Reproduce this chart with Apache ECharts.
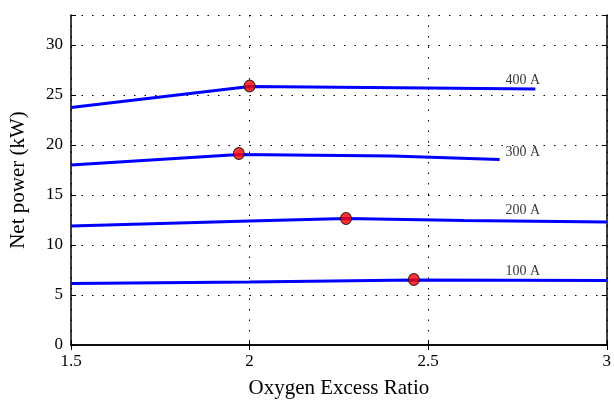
<!DOCTYPE html>
<html><head><meta charset="utf-8">
<script src="https://cdn.jsdelivr.net/npm/echarts@6/dist/echarts.min.js"></script>
<style>html,body{margin:0;padding:0;background:#fff}#c{width:614px;height:404px}</style>
</head><body><div id="c"></div>
<script>
const xTicks = [1.5, 2, 2.5, 3];
const yTicks = [0, 5, 10, 15, 20, 25, 30];
const curve400 = [[1.5, 23.75], [2.0, 25.85], [2.5, 25.7], [2.8, 25.6]];
const curve300 = [[1.5, 18.0], [1.97, 19.05], [2.4, 18.9], [2.7, 18.55]];
const curve200 = [[1.5, 11.9], [2.0, 12.4], [2.27, 12.65], [2.6, 12.45], [3.0, 12.3]];
const curve100 = [[1.5, 6.15], [2.0, 6.3], [2.46, 6.5], [3.0, 6.45]];
const optimumPoints = [[2.0, 25.9], [1.97, 19.15], [2.27, 12.65], [2.46, 6.55]];
const curveLabels = ['400 A', '300 A', '200 A', '100 A'];
const labelPos = [[2.765, 26.5], [2.765, 19.25], [2.765, 13.45], [2.765, 7.4]];

const font = 'Liberation Serif';
const chart = echarts.init(document.getElementById('c'));
const lineS = d => ({type:'line', data:d, showSymbol:false, smooth:false,
  lineStyle:{color:'#0000ff', width:3}, z:2, silent:true});
const grid = {color:'#000', type:[1.5,9], width:1};
chart.setOption({
  animation:false,
  grid:{left:71, right:5, top:15, bottom:56, containLabel:false},
  xAxis:[{type:'value', min:1.5, max:3, interval:0.5,
    name:'Oxygen Excess Ratio', nameLocation:'middle', nameGap:33,
    nameTextStyle:{fontFamily:font, fontSize:21, color:'#000'},
    axisLine:{lineStyle:{color:'#000', width:1.5}},
    axisTick:{inside:true, length:5, lineStyle:{color:'#000'}},
    axisLabel:{fontFamily:font, fontSize:17, color:'#000', margin:8, formatter:v=>String(v)},
    splitLine:{show:true, lineStyle:grid}},
   {type:'value', position:'top', min:1.5, max:3, interval:0.5,
    axisLine:{show:true, lineStyle:{color:'#000', width:1.5}},
    axisTick:{inside:true, length:5, lineStyle:{color:'#000'}},
    axisLabel:{show:false}, splitLine:{show:false}}],
  yAxis:[{type:'value', min:0, max:33, interval:5,
    name:'Net power (kW)', nameLocation:'middle', nameGap:42, nameRotate:90,
    nameTextStyle:{fontFamily:font, fontSize:21, color:'#000'},
    axisLine:{show:true, lineStyle:{color:'#000', width:1.5}},
    axisTick:{inside:true, length:5, lineStyle:{color:'#000'}},
    axisLabel:{fontFamily:font, fontSize:17, color:'#000', margin:8,
      formatter:v=> yTicks.includes(v) ? String(v) : ''},
    splitLine:{show:true, lineStyle:grid}},
   {type:'value', position:'right', min:0, max:33, interval:5,
    axisLine:{show:true, lineStyle:{color:'#000', width:1.5}},
    axisTick:{inside:true, length:5, lineStyle:{color:'#000'}},
    axisLabel:{show:false}, splitLine:{show:false}}],
  series:[
    lineS(curve400), lineS(curve300), lineS(curve200), lineS(curve100),
    {type:'scatter', data:optimumPoints, symbol:'circle', symbolSize:[11,12],
     itemStyle:{color:'#ff0000', borderColor:'#000', borderWidth:1}, z:5},
    {type:'scatter', data:labelPos.map((p,i)=>({value:p, name:curveLabels[i]})),
     symbolSize:1, itemStyle:{color:'rgba(0,0,0,0)'}, z:6,
     label:{show:true, position:'inside', formatter:p=>p.name,
       fontFamily:font, fontSize:14, color:'#000', textBorderWidth:0, textBorderColor:'transparent'}}
  ]
});
</script></body></html>
